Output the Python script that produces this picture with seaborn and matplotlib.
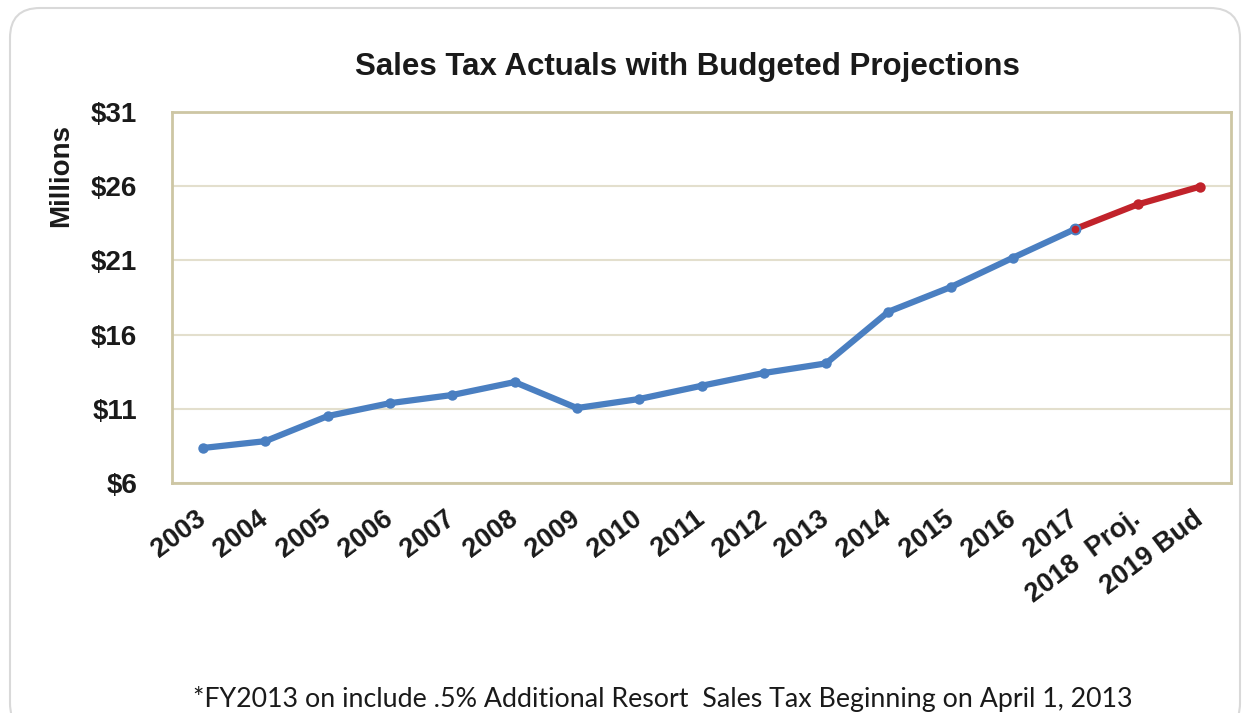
import pandas as pd
import matplotlib.pyplot as plt
import seaborn as sns
from matplotlib.patches import FancyBboxPatch
from matplotlib.transforms import IdentityTransform
from matplotlib.ticker import FixedLocator

# chart data (millions of dollars)
years = ["2003", "2004", "2005", "2006", "2007", "2008", "2009", "2010", "2011",
         "2012", "2013", "2014", "2015", "2016", "2017", "2018  Proj.", "2019 Bud"]
actuals = [8.36, 8.82, 10.51, 11.38, 11.93, 12.80, 11.05, 11.66, 12.55,
           13.41, 14.06, 17.54, 19.20, 21.18, 23.12]
projected = [23.12, 24.77, 25.97]   # 2017 actual, 2018 proj, 2019 budget
y_ticks = [6, 11, 16, 21, 26, 31]

blue = "#4a7fc1"
red = "#c1232b"
tan = "#cdc6a4"
grid_tan = "#e3dfcd"

df_act = pd.DataFrame({"pos": range(len(actuals)), "value": actuals, "series": "Actual"})
df_proj = pd.DataFrame({"pos": range(len(actuals) - 1, len(years)), "value": projected,
                        "series": "Budget"})
df = pd.concat([df_act, df_proj], ignore_index=True)

sns.set_style("white")
plt.rcParams["font.family"] = ["Liberation Sans", "DejaVu Sans"]

fig = plt.figure(figsize=(12.48, 7.13), dpi=100)
ax = fig.add_axes([0.1378, 0.3226, 0.8486, 0.5203])

sns.lineplot(data=df, x="pos", y="value", hue="series",
             palette={"Actual": blue, "Budget": red},
             marker="o", markersize=7.5, linewidth=4.5,
             markeredgewidth=0, legend=False, ax=ax)
# 2017 joint marker: red dot with blue ring
ax.plot(df_proj["pos"].iloc[:1], df_proj["value"].iloc[:1], "o", color=red,
        markeredgecolor=blue, markersize=7, markeredgewidth=1.5, zorder=5)

ax.set_xlim(-0.5, len(years) - 0.5)
ax.set_ylim(y_ticks[0], y_ticks[-1])
ax.set_yticks(y_ticks)
ax.set_yticklabels([f"${v}" for v in y_ticks])
ax.yaxis.grid(True, color=grid_tan, linewidth=1.5)
ax.set_axisbelow(True)

ax.set_xticks(range(len(years)))
ax.set_xticklabels(years, rotation=37, ha="right", va="center", rotation_mode="anchor")
ax.xaxis.set_minor_locator(FixedLocator([i - 0.5 for i in range(len(years) + 1)]))
ax.tick_params(axis="x", which="major", length=0, pad=24, labelsize=19.5)
ax.tick_params(axis="x", which="minor", length=7, width=1.2, color=tan, direction="out")
ax.tick_params(axis="y", which="major", length=7, width=1.2, color=tan, pad=18,
               labelsize=20, direction="out")
for lab in ax.get_xticklabels() + ax.get_yticklabels():
    lab.set_fontweight("bold")
    lab.set_color("#1a1a1a")

for side in ["left", "right", "top", "bottom"]:
    ax.spines[side].set_visible(True)
    ax.spines[side].set_color(tan)
    ax.spines[side].set_linewidth(2)

ax.set_xlabel("")
ax.set_ylabel("Millions", fontsize=20, fontweight="bold", color="#1a1a1a")
ax.yaxis.set_label_coords(-0.092, 0.83)

fig.text(0.551, 0.895, "Sales Tax Actuals with Budgeted Projections",
         ha="center", va="baseline", fontsize=22.5, fontweight="heavy",
         family=["Liberation Sans", "DejaVu Sans"], color="#1a1a1a")

fig.text(0.531, 0.008, "*FY2013 on include .5% Additional Resort  Sales Tax Beginning on April 1, 2013",
         ha="center", va="baseline", fontsize=19.3, family=["Lato", "DejaVu Sans"], color="#1a1a1a")

box = FancyBboxPatch((10, -20), 1230, 725, boxstyle="round,pad=0,rounding_size=30",
                     transform=IdentityTransform(), fill=False, edgecolor="#d9d9d9", linewidth=1.5)
fig.add_artist(box)

fig.savefig("out.png", dpi=100)
